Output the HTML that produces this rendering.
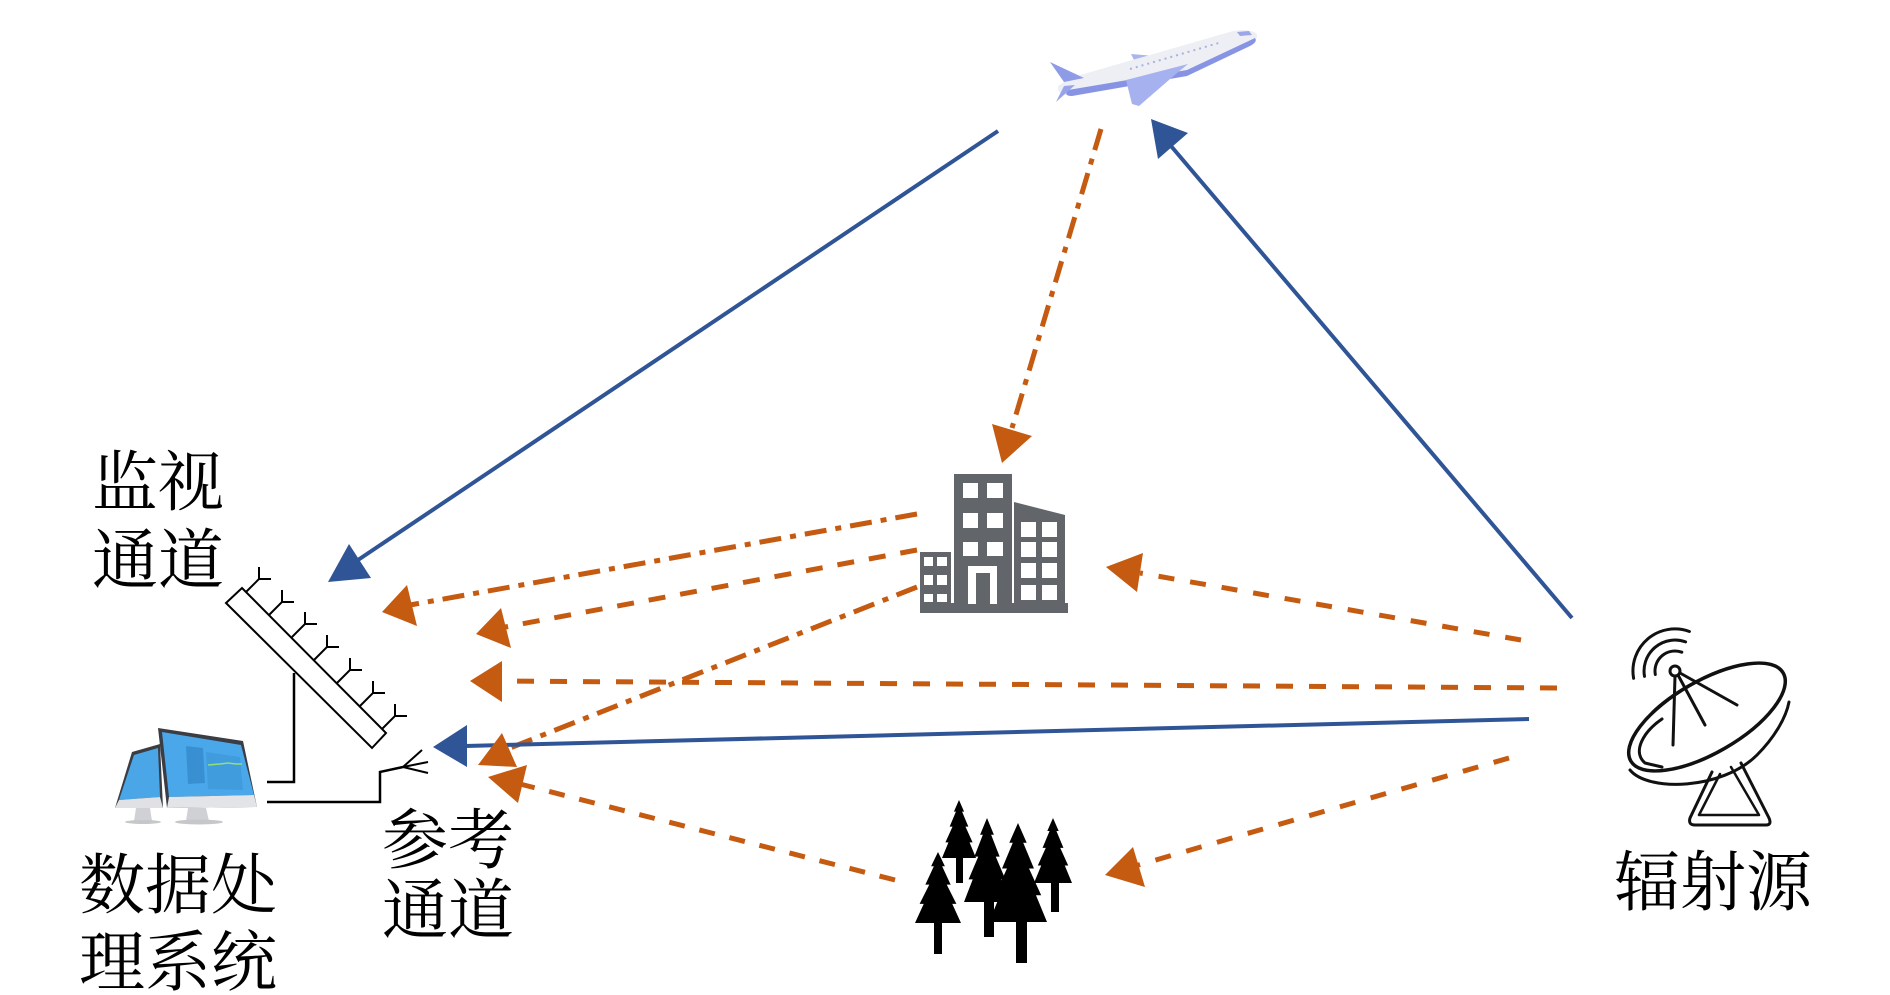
<!DOCTYPE html>
<html>
<head>
<meta charset="utf-8">
<style>
  html, body { margin: 0; padding: 0; background: #ffffff; }
  body { width: 1890px; height: 995px; overflow: hidden; }
  svg { display: block; }
  .t { font-family: "Liberation Serif", "Noto Serif CJK SC", serif; font-size: 66px; fill: #000; }
</style>
</head>
<body>
<svg width="1890" height="995" viewBox="0 0 1890 995" xmlns="http://www.w3.org/2000/svg">
  <rect x="0" y="0" width="1890" height="995" fill="#ffffff"/>

  <!-- ===== Airplane ===== -->
  <g>
    <polygon points="1131,54 1155,56 1150,61 1134,60" fill="#aab4ee"/>
    <path d="M1058,86 L1070,78 L1233,31 Q1250,28 1257,34 Q1258,40 1250,44 L1187,74 L1070,95 Q1057,96 1058,86 Z" fill="#eeeff5"/>
    <path d="M1068,90 L1187,70 L1255,38 Q1258,42 1250,46 L1187,76 L1072,96 Q1063,96 1068,90 Z" fill="#8794e3"/>
    <polygon points="1050,62 1084,78 1064,82" fill="#8e9be6"/>
    <polygon points="1056,102 1075,85 1064,86" fill="#97a3ea"/>
    <polygon points="1126,80 1188,64 1177,73 1139,106 1132,104" fill="#a6b1ef"/>
    <line x1="1130" y1="69" x2="1222" y2="42" stroke="#a9b2dd" stroke-width="2" stroke-dasharray="2 4"/>
    <polygon points="1237,32 1249,31 1252,35 1240,36" fill="#9aa6e8"/>
  </g>

  <!-- ===== Building ===== -->
  <g fill="#62666b">
    <rect x="954" y="474" width="58" height="136"/>
    <polygon points="1014,502 1065,515 1065,610 1014,610"/>
    <rect x="920" y="552" width="31" height="58"/>
    <rect x="920" y="603" width="148" height="10"/>
  </g>
  <g fill="#ffffff">
    <rect x="963" y="483" width="15" height="15"/>
    <rect x="987" y="483" width="16" height="15"/>
    <rect x="963" y="513" width="15" height="15"/>
    <rect x="987" y="513" width="16" height="15"/>
    <rect x="963" y="542" width="15" height="14"/>
    <rect x="987" y="542" width="16" height="14"/>
    <rect x="968" y="566" width="29" height="38"/>
    <rect x="1021" y="522" width="15" height="15"/>
    <rect x="1042" y="522" width="15" height="15"/>
    <rect x="1021" y="542" width="15" height="15"/>
    <rect x="1042" y="542" width="15" height="15"/>
    <rect x="1021" y="563" width="15" height="15"/>
    <rect x="1042" y="563" width="15" height="15"/>
    <rect x="1021" y="585" width="15" height="15"/>
    <rect x="1042" y="585" width="15" height="15"/>
    <rect x="924" y="557" width="9" height="9"/>
    <rect x="937" y="557" width="10" height="9"/>
    <rect x="924" y="575" width="9" height="10"/>
    <rect x="937" y="575" width="10" height="10"/>
    <rect x="924" y="594" width="9" height="8"/>
    <rect x="937" y="594" width="10" height="8"/>
  </g>
  <rect x="976" y="573" width="14" height="32" fill="#62666b"/>

  <!-- ===== Trees ===== -->
  <g fill="#000">
    <path transform="translate(959,800) scale(17,58)" d="M0,0 L0.3,0.2 L0.18,0.2 L0.55,0.46 L0.38,0.46 L0.8,0.73 L0.62,0.73 L1,1 L-1,1 L-0.62,0.73 L-0.8,0.73 L-0.38,0.46 L-0.55,0.46 L-0.18,0.2 L-0.3,0.2 Z"/>
    <rect x="956" y="855" width="7" height="28"/>
    <path transform="translate(1053,818) scale(19,65)" d="M0,0 L0.3,0.2 L0.18,0.2 L0.55,0.46 L0.38,0.46 L0.8,0.73 L0.62,0.73 L1,1 L-1,1 L-0.62,0.73 L-0.8,0.73 L-0.38,0.46 L-0.55,0.46 L-0.18,0.2 L-0.3,0.2 Z"/>
    <rect x="1051" y="880" width="8" height="32"/>
    <path transform="translate(987,818) scale(23,84)" d="M0,0 L0.3,0.2 L0.18,0.2 L0.55,0.46 L0.38,0.46 L0.8,0.73 L0.62,0.73 L1,1 L-1,1 L-0.62,0.73 L-0.8,0.73 L-0.38,0.46 L-0.55,0.46 L-0.18,0.2 L-0.3,0.2 Z"/>
    <rect x="984" y="898" width="10" height="39"/>
    <path transform="translate(1018,823) scale(29,99)" d="M0,0 L0.3,0.2 L0.18,0.2 L0.55,0.46 L0.38,0.46 L0.8,0.73 L0.62,0.73 L1,1 L-1,1 L-0.62,0.73 L-0.8,0.73 L-0.38,0.46 L-0.55,0.46 L-0.18,0.2 L-0.3,0.2 Z"/>
    <rect x="1016" y="918" width="11" height="45"/>
    <path transform="translate(938,852) scale(23,71)" d="M0,0 L0.3,0.2 L0.18,0.2 L0.55,0.46 L0.38,0.46 L0.8,0.73 L0.62,0.73 L1,1 L-1,1 L-0.62,0.73 L-0.8,0.73 L-0.38,0.46 L-0.55,0.46 L-0.18,0.2 L-0.3,0.2 Z"/>
    <rect x="934" y="920" width="8" height="34"/>
  </g>

  <!-- ===== Dish (radiation source) ===== -->
  <g fill="none" stroke="#111" stroke-linecap="round" stroke-linejoin="round">
    <path d="M1712,772 L1690,818 Q1688,825 1695,825 L1766,825 Q1772,825 1769,818 L1741,763" stroke-width="3"/>
    <path d="M1720,774 L1699,815 L1759,815 L1731,767" stroke-width="2.5"/>
    <path d="M1630,770 C1648,792 1722,790 1757,755 C1774,738 1786,718 1789,702" stroke-width="3"/>
    <ellipse cx="1707" cy="717" rx="88" ry="36" transform="rotate(-30 1707 717)" stroke-width="3.5" fill="#fff"/>
    <path d="M1662,719 C1643,732 1632,752 1645,763 L1662,767" stroke-width="3"/>
    <line x1="1675" y1="676" x2="1673" y2="745" stroke-width="3"/>
    <line x1="1678" y1="675" x2="1705" y2="725" stroke-width="3"/>
    <line x1="1680" y1="673" x2="1737" y2="705" stroke-width="3"/>
    <circle cx="1675" cy="671" r="5" stroke-width="3" fill="#fff"/>
    <path d="M1655.3,674.5 A20,20 0 0 1 1681.8,652.2" stroke-width="3"/>
    <path d="M1644.5,676.4 A31,31 0 0 1 1685.6,641.9" stroke-width="3"/>
    <path d="M1633.6,678.3 A42,42 0 0 1 1689.4,631.5" stroke-width="3"/>
  </g>

  <!-- ===== Monitors ===== -->
  <g>
    <polygon points="132,752 160,744 163,808 115,808" fill="#3a3d44"/>
    <polygon points="134,755 158,748 160,797 119,800" fill="#4aa6e6"/>
    <polygon points="119,800 160,797 163,808 115,808" fill="#dfe1e4"/>
    <polygon points="136,808 150,808 152,821 134,821" fill="#cfd1d4"/>
    <ellipse cx="143" cy="822" rx="18" ry="2" fill="#c5c7ca"/>
    <polygon points="158,728 243,741 257,807 167,808" fill="#3a3d44"/>
    <polygon points="162,732 241,745 254,795 169,797" fill="#4aa8ea"/>
    <polygon points="169,797 254,795 257,807 167,808" fill="#e2e4e7"/>
    <polygon points="186,746 203,748 205,783 188,784" fill="#3890d2"/>
    <polygon points="206,752 240,757 243,790 208,789" fill="#419cde"/>
    <polyline points="208,765 220,764 228,763 236,764 242,764" fill="none" stroke="#8fe07a" stroke-width="1.5"/>
    <polygon points="188,808 206,808 209,821 186,821" fill="#cfd1d4"/>
    <ellipse cx="199" cy="822" rx="24" ry="2.5" fill="#c5c7ca"/>
  </g>

  <!-- ===== Wires ===== -->
  <g fill="none" stroke="#000" stroke-width="2.5">
    <polyline points="294,673 294,782 267,782"/>
    <polyline points="267,802 380,802 380,772 403,767"/>
    <line x1="403" y1="767" x2="422" y2="750" stroke-width="2"/>
    <line x1="403" y1="767" x2="428" y2="762" stroke-width="2"/>
    <line x1="403" y1="767" x2="428" y2="773" stroke-width="2"/>
  </g>

  <!-- ===== Surveillance antenna array ===== -->
  <polygon points="226,603 242,588 386,733 372,748" fill="#fff" stroke="#000" stroke-width="2"/>
  <g fill="none" stroke="#000" stroke-width="2">
    <polyline points="246,592 259,579 259,567"/><line x1="259" y1="579" x2="271" y2="579"/>
    <polyline points="269,615 282,602 282,590"/><line x1="282" y1="602" x2="294" y2="602"/>
    <polyline points="292,637 305,624 305,612"/><line x1="305" y1="624" x2="317" y2="624"/>
    <polyline points="314,660 327,647 327,635"/><line x1="327" y1="647" x2="339" y2="647"/>
    <polyline points="337,683 350,670 350,658"/><line x1="350" y1="670" x2="362" y2="670"/>
    <polyline points="360,706 373,693 373,681"/><line x1="373" y1="693" x2="385" y2="693"/>
    <polyline points="382,729 395,716 395,704"/><line x1="395" y1="716" x2="407" y2="716"/>
  </g>

  <!-- ===== Orange paths ===== -->
  <g fill="none" stroke="#C55A11" stroke-width="5">
    <line x1="1101" y1="129" x2="1012" y2="428" stroke-dasharray="22 9 6 9"/>
    <line x1="917" y1="514" x2="410" y2="605" stroke-dasharray="22 9 6 9"/>
    <line x1="917" y1="550" x2="500" y2="628" stroke-dasharray="17 15"/>
    <line x1="917" y1="587" x2="510" y2="748" stroke-dasharray="22 9 6 9"/>
    <line x1="1557" y1="688" x2="495" y2="681" stroke-dasharray="17 16"/>
    <line x1="1521" y1="640" x2="1140" y2="573" stroke-dasharray="16 16"/>
    <line x1="1509" y1="758" x2="1135" y2="866" stroke-dasharray="16 16"/>
    <line x1="895" y1="880" x2="520" y2="784" stroke-dasharray="16 15"/>
  </g>

  <!-- ===== Blue paths ===== -->
  <g fill="none" stroke="#2F5597" stroke-width="4">
    <line x1="998" y1="131" x2="355" y2="562"/>
    <line x1="1572" y1="618" x2="1171" y2="146"/>
    <line x1="1529" y1="719" x2="465" y2="746"/>
  </g>

  <!-- ===== Arrowheads ===== -->
  <g fill="#2F5597">
    <polygon points="328,582 349,544 371,578"/>
    <polygon points="1151,119 1158,159 1188,133"/>
    <polygon points="433,747 467,725 467,767"/>
  </g>
  <g fill="#C55A11">
    <polygon points="1002,463 992,424 1032,436"/>
    <polygon points="382,612 407,585 417,626"/>
    <polygon points="476,634 501,608 511,648"/>
    <polygon points="502,733 478,765 517,767"/>
    <polygon points="470,681 502,661 502,702"/>
    <polygon points="1106,567 1143,553 1137,592"/>
    <polygon points="1105,875 1133,847 1145,887"/>
    <polygon points="488,777 527,765 518,803"/>
  </g>

  <!-- ===== Labels ===== -->
  <text class="t" x="92" y="505">监视</text>
  <text class="t" x="92" y="583">通道</text>
  <text class="t" x="79" y="908">数据处</text>
  <text class="t" x="79" y="985">理系统</text>
  <text class="t" x="382" y="863">参考</text>
  <text class="t" x="382" y="933">通道</text>
  <text class="t" x="1614" y="905">辐射源</text>
</svg>
</body>
</html>
